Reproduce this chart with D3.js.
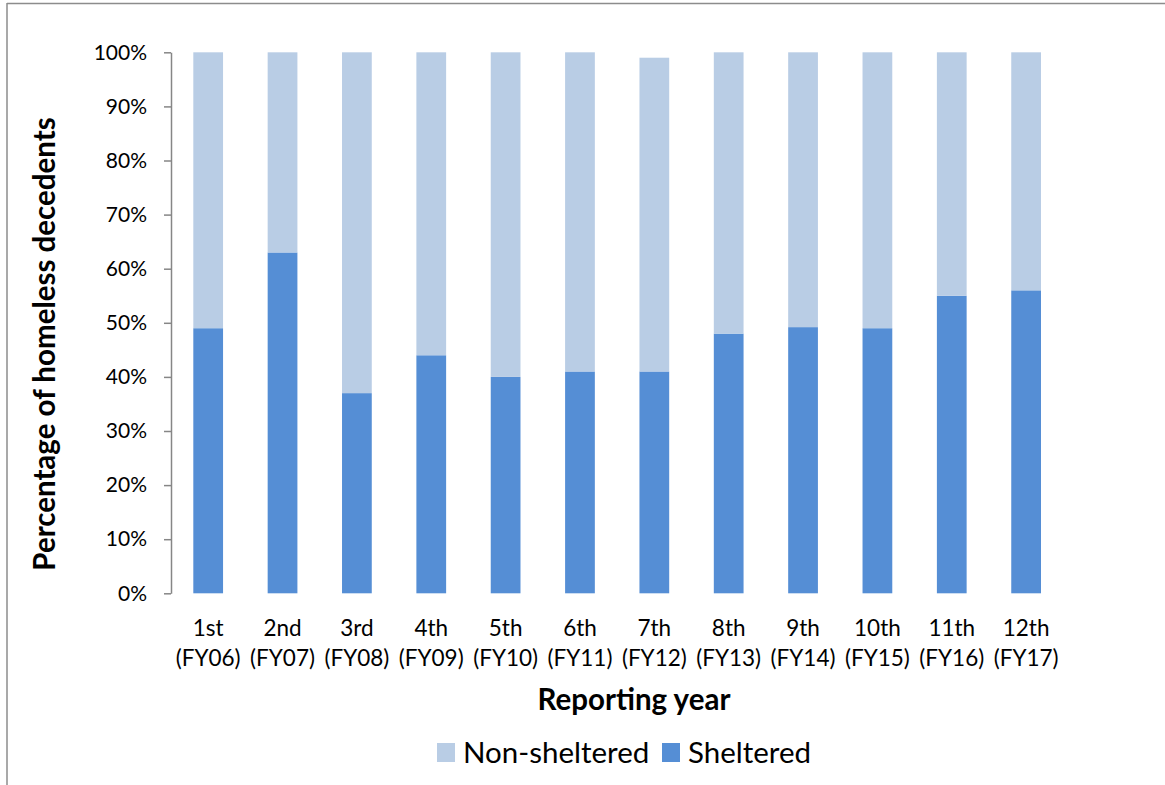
<!DOCTYPE html>
<html><head><meta charset="utf-8">
<script src="https://cdn.jsdelivr.net/npm/d3@7"></script>
<style>html,body{margin:0;padding:0;background:#fff;}svg{display:block;}</style>
</head><body>
<script>
const categories = ["1st (FY06)","2nd (FY07)","3rd (FY08)","4th (FY09)","5th (FY10)","6th (FY11)","7th (FY12)","8th (FY13)","9th (FY14)","10th (FY15)","11th (FY16)","12th (FY17)"];
const sheltered = [49,63,37,44,40,41,41,48,49.2,49,55,56];
const nonSheltered = [51,37,63,56,60,59,58,52,50.8,51,45,44];
const seriesNames = ["Non-sheltered","Sheltered"];
const yTicks = [0,10,20,30,40,50,60,70,80,90,100];

(function(){
const W=1165,H=785;
const FONT="Lato, 'Open Sans', sans-serif";
const svg=d3.select("body").append("svg").attr("width",W).attr("height",H);

// frame
svg.append("line").attr("x1",7).attr("x2",W).attr("y1",3.5).attr("y2",3.5).attr("stroke","#8c8c8c").attr("stroke-width",1.5);
svg.append("line").attr("x1",7).attr("x2",7).attr("y1",3).attr("y2",H).attr("stroke","#8c8c8c").attr("stroke-width",1.5);

const mLeft=171, mRight=1063.3, mTop=52.3, mBottom=593.3;
const x=d3.scaleBand().domain(categories).range([mLeft,mRight]).paddingInner(0.6).paddingOuter(0.3);
const y=d3.scaleLinear().domain([0,100]).range([mBottom,mTop]);

const data=categories.map((c,i)=>({cat:c,Sheltered:sheltered[i],"Non-sheltered":nonSheltered[i]}));
const stack=d3.stack().keys(["Sheltered","Non-sheltered"])(data);
const colors={"Sheltered":"#558ED5","Non-sheltered":"#B9CDE5"};

stack.forEach(layer=>{
  svg.append("g").selectAll("rect").data(layer).join("rect")
    .attr("x",d=>x(d.data.cat)).attr("width",x.bandwidth())
    .attr("y",d=>y(d[1])).attr("height",d=>y(d[0])-y(d[1]))
    .attr("fill",colors[layer.key]);
});

// y axis
const yAxis=svg.append("g").attr("transform",`translate(${mLeft},0)`)
  .call(d3.axisLeft(y).tickValues(yTicks).tickFormat(d=>d+"%").tickSize(7).tickSizeOuter(0));
yAxis.select(".domain").attr("stroke","#868686").attr("stroke-width",1.5);
yAxis.selectAll(".tick line").attr("stroke","#868686").attr("stroke-width",1.5);
yAxis.selectAll(".tick text").attr("x",-24).attr("font-family",FONT).attr("font-size",21).attr("fill","#000");

// x labels
const xg=svg.append("g");
categories.forEach(c=>{
  const parts=c.split(" ");
  const t=xg.append("text").attr("text-anchor","middle").attr("font-family",FONT).attr("font-size",22.5).attr("fill","#000");
  t.append("tspan").attr("x",x(c)+x.bandwidth()/2).attr("y",636).text(parts[0]);
  t.append("tspan").attr("x",x(c)+x.bandwidth()/2).attr("y",666).text(parts[1]);
});

// axis titles
svg.append("text").attr("x",634).attr("y",710).attr("text-anchor","middle").attr("font-family",FONT).attr("font-weight","bold").attr("font-size",29.5).text("Reporting year");
svg.append("text").attr("transform","translate(55,344) rotate(-90)").attr("text-anchor","middle").attr("font-family",FONT).attr("font-weight","bold").attr("font-size",29.5).text("Percentage of homeless decedents");

// legend
const leg=svg.append("g");
const legX=[437,662];
seriesNames.forEach((n,i)=>{
  leg.append("rect").attr("x",legX[i]).attr("y",743).attr("width",18).attr("height",19).attr("fill",colors[n]);
  leg.append("text").attr("x",legX[i]+26).attr("y",763).attr("font-family",FONT).attr("font-size",29.5).attr("fill","#000").text(n);
});
})();
</script>
</body></html>
